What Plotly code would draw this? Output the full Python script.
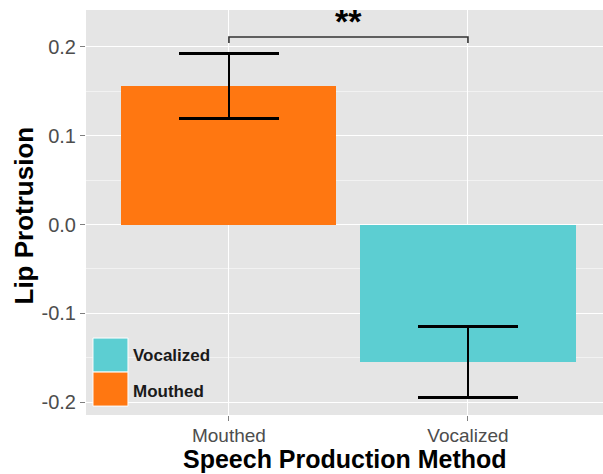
import plotly.graph_objects as go

# ---- data ----
categories = ["Mouthed", "Vocalized"]
means = [0.1558, -0.1543]
errors = [0.037, 0.040]
bar_colors = ["#FF7711", "#5CCED2"]
legend_labels = ["Vocalized", "Mouthed"]
y_ticks = [-0.2, -0.1, 0.0, 0.1, 0.2]
y_tick_labels = ["-0.2", "-0.1", "0.0", "0.1", "0.2"]
bracket_x = ["Mouthed", "Mouthed", "Vocalized", "Vocalized"]
bracket_y = [0.2042, 0.2109, 0.2109, 0.2042]
sig_label = "**"
sig_y = 0.229

FONT = "Liberation Sans, Arial, sans-serif"

fig = go.Figure()
fig.add_trace(go.Bar(
    x=categories, y=means, width=0.9,
    marker=dict(color=bar_colors, line=dict(width=0)),
    error_y=dict(type="data", array=errors, visible=True,
                 color="black", thickness=2.8, width=50),
    showlegend=False, hoverinfo="x+y",
))
fig.add_trace(go.Scatter(
    x=bracket_x, y=bracket_y, mode="lines",
    line=dict(color="#333333", width=1.6),
    showlegend=False, hoverinfo="skip",
))

# manual legend (inside plot, bottom-left)
key_boxes = [(0.106, 0.190, "#5CCED2"), (0.022, 0.106, "#FF7711")]
shapes = []
for (y0, y1, c) in key_boxes:
    shapes.append(dict(type="rect", xref="paper", yref="paper",
                       x0=0.0135, x1=0.0812, y0=y0, y1=y1,
                       fillcolor=c, line=dict(color="white", width=1),
                       layer="above"))
annotations = []
for lab, yc in zip(legend_labels, [0.148, 0.059]):
    annotations.append(dict(text=f"<b>{lab}</b>", xref="paper", yref="paper",
                            x=0.087, y=yc, xanchor="left", yanchor="middle",
                            showarrow=False,
                            font=dict(family=FONT, size=17, color="#1a1a1a")))
annotations.append(dict(text=f"<b>{sig_label}</b>", x=0.5, y=sig_y,
                        xref="x", yref="y", showarrow=False,
                        xanchor="center", yanchor="middle",
                        font=dict(family=FONT, size=34, color="black")))
# axis titles
annotations.append(dict(text="<b>Speech Production Method</b>", xref="paper", yref="paper",
                        x=0.5, y=0, yshift=-44, xanchor="center", yanchor="middle",
                        showarrow=False, font=dict(family=FONT, size=25, color="black")))
annotations.append(dict(text="<b>Lip Protrusion</b>", xref="paper", yref="paper",
                        x=0, xshift=-63, y=0.5, yshift=-3, textangle=-90,
                        xanchor="center", yanchor="middle",
                        showarrow=False, font=dict(family=FONT, size=26, color="black")))

fig.update_layout(
    width=603, height=474,
    margin=dict(l=86, r=0, t=10, b=59),
    paper_bgcolor="white", plot_bgcolor="#E5E5E5",
    shapes=shapes, annotations=annotations,
    bargap=0,
    font=dict(family=FONT),
)
fig.update_xaxes(
    type="category", range=[-0.598, 1.565],
    showgrid=True, gridcolor="white", gridwidth=1.4,
    ticks="outside", ticklen=5, tickcolor="#7f7f7f", tickwidth=1,
    ticklabelstandoff=-2,
    tickfont=dict(family=FONT, size=19, color="#4d4d4d"),
    zeroline=False, showline=False, automargin=False,
)
fig.update_yaxes(
    range=[-0.2143, 0.2413],
    tickvals=y_ticks, ticktext=y_tick_labels,
    showgrid=True, gridcolor="white", gridwidth=1.4,
    minor=dict(dtick=0.05, tick0=0.05, showgrid=True, gridcolor="#F2F2F2", gridwidth=0.8),
    ticks="outside", ticklen=5, tickcolor="#7f7f7f", tickwidth=1,
    tickfont=dict(family=FONT, size=20, color="#4d4d4d"),
    zeroline=False, showline=False, automargin=False,
)

fig.write_html("out.html",
               config={"displayModeBar": False},
               post_script="document.body.style.margin='0';document.body.style.overflow='hidden';")
